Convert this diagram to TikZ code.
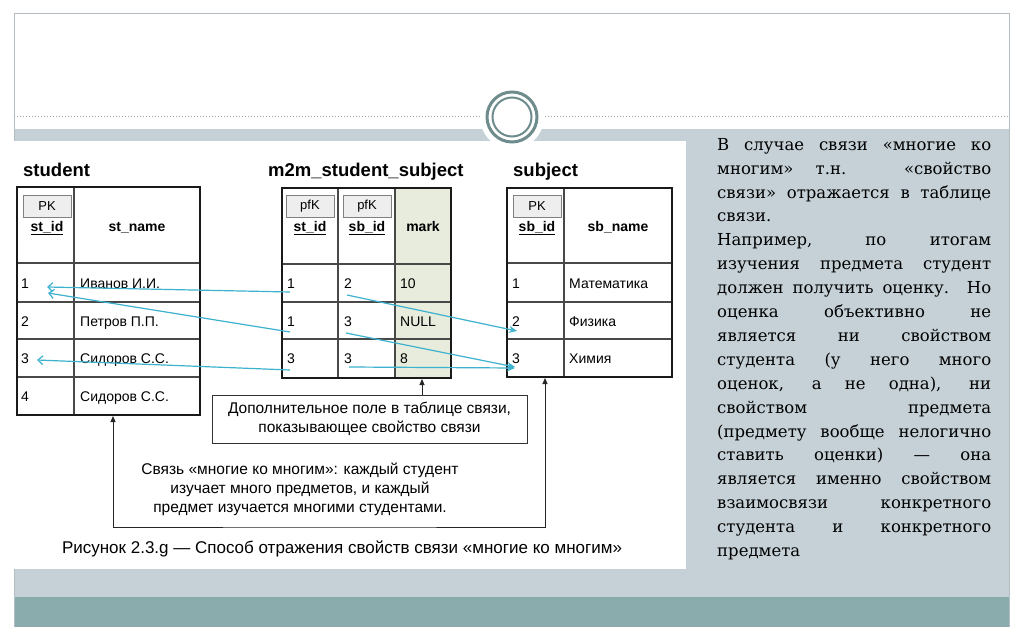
\documentclass[tikz,border=0pt]{standalone}
\usepackage{fontspec}
\setmainfont{Liberation Sans}
\newfontfamily\rtext{DejaVu Serif}
\usetikzlibrary{arrows.meta}
\definecolor{bandgray}{HTML}{C5D1D7}
\definecolor{footteal}{HTML}{8BACAC}
\definecolor{ringcol}{HTML}{6F8C8C}
\definecolor{framecol}{HTML}{B4BEC2}
\definecolor{dotcol}{HTML}{98A4A8}
\definecolor{markfill}{HTML}{E7ECDD}
\definecolor{linkblue}{HTML}{3DB2CE}
\definecolor{keyfill}{HTML}{EEEEEE}
\definecolor{tabline}{HTML}{1A1A1A}
\begin{document}
\begin{tikzpicture}[x=1pt,y=-1pt,
  outerline/.style={draw=tabline,line width=2.3pt},
  innerline/.style={draw=tabline!80,line width=1.1pt},
  ttl/.style={anchor=base west,inner sep=0pt,font=\fontsize{18.5}{20}\selectfont\bfseries},
  cell/.style={anchor=base west,inner sep=0pt,font=\fontsize{14}{16}\selectfont},
  hdr/.style={anchor=base,inner sep=0pt,font=\fontsize{14}{16}\selectfont\bfseries},
  keybox/.style={draw=black!50,fill=keyfill,line width=0.8pt,minimum width=48pt,minimum height=22pt,inner sep=0pt,font=\fontsize{13}{15}\selectfont},
  blinkL/.style={draw=linkblue,line width=1.2pt,-{Straight Barb[length=5pt,width=9pt]}},
  blinkR/.style={draw=linkblue,line width=1.2pt,-{Stealth[open,length=8pt,width=7pt]}},
  callarrow/.style={draw=black!85,line width=1pt,-{Triangle[length=6pt,width=5pt]}},
  note/.style={align=center,inner sep=0pt,font=\fontsize{15.5}{19}\selectfont}
]
\useasboundingbox (0,0) rectangle (1024,639);
\fill[white] (0,0) rectangle (1024,639);
% slide background
\fill[bandgray] (14,129) rectangle (1009,597);
\fill[footteal] (14,597) rectangle (1009,627);
\draw[framecol,line width=0.8pt] (14,627) -- (14,13) -- (1009,13) -- (1009,627);
\fill[white] (14,141) rectangle (686,569);
\draw[dotcol,line width=1pt,dotted] (14,117) -- (1009,117);
\fill[white] (512,117) circle[radius=32pt];
\draw[ringcol,line width=3pt] (512,117) circle[radius=25pt];
\draw[ringcol,line width=2pt] (512,117) circle[radius=19.5pt];

% ---------- student table ----------
\node[ttl] (tstudent) at (23,176) {student};
\draw[innerline] (74,187) -- (74,415);
\foreach \yy in {263,302,339,377} \draw[innerline] (17,\yy) -- (200,\yy);
\draw[outerline] (17,187) rectangle (200,415);
\node[keybox] (kst) at (47,206) {PK};
\node[hdr] (hstid) at (47,231) {\underline{st\_id}};
\node[hdr] (hstname) at (137,231) {st\_name};
\node[cell] (s11) at (21,288) {1};
\node[cell] (s12) at (80,288) {Иванов И.И.};
\node[cell] (s21) at (21,326) {2};
\node[cell] (s22) at (80,326) {Петров П.П.};
\node[cell] (s31) at (21,363) {3};
\node[cell] (s32) at (80,363) {Сидоров С.С.};
\node[cell] (s41) at (21,401) {4};
\node[cell] (s42) at (80,401) {Сидоров С.С.};

% ---------- m2m table ----------
\node[ttl] (tm2m) at (268,176) {m2m\_student\_subject};
\fill[markfill] (395,188) rectangle (451,378);
\draw[innerline] (338,188) -- (338,378);
\draw[innerline] (395,188) -- (395,378);
\foreach \yy in {264,302,339} \draw[innerline] (282,\yy) -- (451,\yy);
\draw[outerline] (282,188) rectangle (451,378);
\node[keybox] (kmst) at (310,206) {pfK};
\node[keybox] (kmsb) at (367,206) {pfK};
\node[hdr] (hmst) at (310,231) {\underline{st\_id}};
\node[hdr] (hmsb) at (367,231) {\underline{sb\_id}};
\node[hdr] (hmark) at (423,231) {mark};
\node[cell] (m11) at (287,288) {1};
\node[cell] (m12) at (344,288) {2};
\node[cell] (m13) at (400,288) {10};
\node[cell] (m21) at (287,326) {1};
\node[cell] (m22) at (344,326) {3};
\node[cell] (m23) at (400,326) {NULL};
\node[cell] (m31) at (287,363) {3};
\node[cell] (m32) at (344,363) {3};
\node[cell] (m33) at (400,363) {8};

% ---------- subject table ----------
\node[ttl] (tsubject) at (513,176) {subject};
\draw[innerline] (564,188) -- (564,377);
\foreach \yy in {263,302,339} \draw[innerline] (507,\yy) -- (672,\yy);
\draw[outerline] (507,188) rectangle (672,377);
\node[keybox] (ksb) at (537,206) {PK};
\node[hdr] (hsbid) at (537,231) {\underline{sb\_id}};
\node[hdr] (hsbname) at (618,231) {sb\_name};
\node[cell] (b11) at (512,288) {1};
\node[cell] (b12) at (569,288) {Математика};
\node[cell] (b21) at (512,326) {2};
\node[cell] (b22) at (569,326) {Физика};
\node[cell] (b31) at (512,363) {3};
\node[cell] (b32) at (569,363) {Химия};

% ---------- blue links ----------
\coordinate (sa1) at (47,287);
\coordinate (sa2) at (48,293);
\coordinate (sa3) at (37,360);
\coordinate (ma1) at (290,292);
\coordinate (ma2) at (290,332);
\coordinate (ma3) at (290,370);
\coordinate (mb1) at (347,295);
\coordinate (mb2) at (346,333);
\coordinate (mb3) at (349,367);
\coordinate (sb2) at (517,331);
\coordinate (sb3a) at (515,367);
\coordinate (sb3b) at (515,368);
\draw[blinkL] (ma1) -- (sa1);
\draw[blinkL] (ma2) -- (sa2);
\draw[blinkL] (ma3) -- (sa3);
\draw[blinkR] (mb1) -- (sb2);
\draw[blinkR] (mb2) -- (sb3a);
\draw[blinkR] (mb3) -- (sb3b);

% ---------- callouts ----------
\node[draw=black!80,line width=1pt,minimum width=315pt,minimum height=48pt,note] (cbox) at (369.5,419)
  {Дополнительное поле в таблице связи,\\показывающее свойство связи};
\coordinate (markbot) at (422,379);
\draw[callarrow] (cbox.north -| markbot) -- (markbot);

\coordinate (stbot) at (113,416);
\coordinate (subbot) at (545,378);
\coordinate (brk) at (330,527);
\draw[draw=black!85,line width=1pt,{Triangle[length=6pt,width=5pt]}-{Triangle[length=6pt,width=5pt]}]
  (stbot) |- (brk) -| (subbot);
\node[note] (m2mnote) at (300,489)
  {Связь «многие ко многим»: каждый студент\\изучает много предметов, и каждый\\предмет изучается многими студентами.};

\node[inner sep=0pt,font=\fontsize{17}{18}\selectfont] (caption) at (342,549)
  {Рисунок 2.3.g — Способ отражения свойств связи «многие ко многим»};

% ---------- right text ----------
\node[anchor=north west,inner sep=0pt,text width=274pt,align=justify,
  font=\rtext\fontsize{16.5}{23.9}\selectfont] (rtext) at (717,138)
{\hyphenpenalty=10000\exhyphenpenalty=10000
В случае связи «многие ко\linebreak
многим» т.н. «свойство\linebreak
связи» отражается в таблице\linebreak
связи.\\
Например, по итогам\linebreak
изучения предмета студент\linebreak
должен получить оценку. Но\linebreak
оценка объективно не\linebreak
является ни свойством\linebreak
студента (у него много\linebreak
оценок, а не одна), ни\linebreak
свойством предмета\linebreak
(предмету вообще нелогично\linebreak
ставить оценки) — она\linebreak
является именно свойством\linebreak
взаимосвязи конкретного\linebreak
студента и конкретного\linebreak
предмета};
\end{tikzpicture}
\end{document}
